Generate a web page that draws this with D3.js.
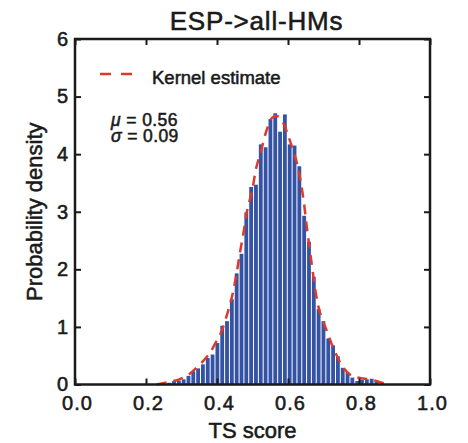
<!DOCTYPE html>
<html>
<head>
<meta charset="utf-8">
<script src="https://cdn.jsdelivr.net/npm/d3@7"></script>
<style>
    body { margin: 0; background: #fff; }
    svg text {
        font-family: "Liberation Sans", Arial, sans-serif;
        fill: #1a1a1a;
        stroke: #1a1a1a;
        stroke-width: 0.55px;
    }
</style>
</head>
<body>
<div id="chart"></div>
<script>
// histogram bins (left edge of the first bin, bin width) and densities
const binStart = 0.2585;
const binWidth = 0.01358;
const density = [
    0.03, 0.06, 0.07, 0.09, 0.15, 0.23, 0.28, 0.35, 0.46, 0.52,
    0.72, 1.02, 1.10, 1.48, 1.93, 2.27, 2.99, 3.43, 3.47, 4.17,
    4.12, 4.61, 4.71, 4.39, 4.69, 4.17, 4.15, 3.79, 2.93, 2.48,
    1.87, 1.31, 1.10, 0.80, 0.68, 0.49, 0.29, 0.20, 0.12, 0.06,
    0.08, 0.09, 0.10, 0.05
];

// kernel estimate
const kdeX = [0.23, 0.26, 0.29, 0.32, 0.335, 0.36, 0.38, 0.40, 0.41, 0.43,
    0.445, 0.455, 0.465, 0.475, 0.485, 0.50, 0.51, 0.525, 0.54, 0.555,
    0.57, 0.585, 0.60, 0.61, 0.625, 0.635, 0.645, 0.652, 0.66, 0.668,
    0.678, 0.69, 0.71, 0.73, 0.757, 0.78, 0.805, 0.83, 0.86, 0.88];
const kdeY = [0.00, 0.04, 0.08, 0.17, 0.25, 0.40, 0.55, 0.77, 0.88, 1.25,
    1.60, 1.93, 2.30, 2.65, 3.02, 3.40, 3.75, 4.08, 4.42, 4.63,
    4.66, 4.56, 4.33, 4.15, 3.85, 3.55, 3.15, 2.78, 2.40, 2.04,
    1.60, 1.25, 0.92, 0.60, 0.28, 0.15, 0.11, 0.09, 0.04, 0.00];

const xTicks = [0, 0.2, 0.4, 0.6, 0.8, 1.0];
const yTicks = [0, 1, 2, 3, 4, 5, 6];
const stats = [["μ", "0.56"], ["σ", "0.09"]];

const margin = { top: 39, right: 38, bottom: 58.5, left: 75 };
const width = 468 - margin.left - margin.right;
const height = 443 - margin.top - margin.bottom;

const svg = d3.select("#chart").append("svg")
    .attr("width", 468)
    .attr("height", 443);

const g = svg.append("g")
    .attr("transform", `translate(${margin.left},${margin.top})`);

const x = d3.scaleLinear().domain([0, 1]).range([0, width]);
const y = d3.scaleLinear().domain([0, 6]).range([height, 0]);

// bars
const bins = density.map((d, i) => ({ x0: binStart + i * binWidth, value: d }));
const barW = x(binWidth) - x(0);

g.selectAll(".bar")
    .data(bins)
    .enter().append("rect")
    .attr("class", "bar")
    .attr("x", d => x(d.x0) + 0.5)
    .attr("width", barW - 1)
    .attr("y", d => y(d.value))
    .attr("height", d => height - y(d.value))
    .attr("fill", "#3453a5");

// kernel estimate
const kde = kdeX.map((v, i) => [v, kdeY[i]]);
const line = d3.line()
    .x(d => x(d[0]))
    .y(d => y(d[1]))
    .curve(d3.curveCatmullRom);

g.append("path")
    .datum(kde)
    .attr("fill", "none")
    .attr("stroke", "#dc3a2c")
    .attr("stroke-width", 2.5)
    .attr("stroke-dasharray", "10,7")
    .attr("d", line);

// axes, ticks pointing inwards on all four sides
const tickStyle = sel => {
    sel.select(".domain").remove();
    sel.selectAll(".tick line").attr("stroke", "#1a1a1a").attr("stroke-width", 2);
    sel.selectAll(".tick text")
        .style("font-size", "20px")
        .style("letter-spacing", "1px")
        .attr("fill", "#1a1a1a");
};

g.append("g")
    .attr("transform", `translate(0,${height})`)
    .call(d3.axisBottom(x).tickValues(xTicks).tickFormat(d3.format(".1f"))
        .tickSize(-6).tickPadding(11))
    .call(tickStyle)
    .selectAll(".tick text").attr("dx", 2);

g.append("g")
    .call(d3.axisTop(x).tickValues(xTicks).tickFormat("").tickSize(-6))
    .call(tickStyle);

g.append("g")
    .call(d3.axisLeft(y).tickValues(yTicks).tickFormat(d3.format("d"))
        .tickSize(-6).tickPadding(6))
    .call(tickStyle);

g.append("g")
    .attr("transform", `translate(${width},0)`)
    .call(d3.axisRight(y).tickValues(yTicks).tickFormat("").tickSize(-6))
    .call(tickStyle);

g.append("rect")
    .attr("width", width)
    .attr("height", height)
    .attr("fill", "none")
    .attr("stroke", "#1a1a1a")
    .attr("stroke-width", 2.5);

// title and axis labels
svg.append("text")
    .attr("x", margin.left + width / 2 + 4)
    .attr("y", 30)
    .attr("text-anchor", "middle")
    .style("font-size", "26px")
    .style("letter-spacing", "0.8px")
    .text("ESP->all-HMs");

svg.append("text")
    .attr("x", margin.left + width / 2)
    .attr("y", 438)
    .attr("text-anchor", "middle")
    .style("font-size", "22px")
    .text("TS score");

svg.append("text")
    .attr("transform", `translate(42,${margin.top + height / 2}) rotate(-90)`)
    .attr("text-anchor", "middle")
    .style("font-size", "22px")
    .text("Probability density");

// legend
g.append("line")
    .attr("x1", 25).attr("x2", 57)
    .attr("y1", 35).attr("y2", 35)
    .attr("stroke", "#dc3a2c")
    .attr("stroke-width", 2.5)
    .attr("stroke-dasharray", "11,10");

g.append("text")
    .attr("x", 77)
    .attr("y", 45)
    .style("font-size", "18.5px")
    .text("Kernel estimate");

// mean / sd annotation
stats.forEach((s, i) => {
    const t = g.append("text")
        .attr("x", 36)
        .attr("y", 86.5 + i * 16)
        .style("font-size", "17.5px")
        .style("letter-spacing", "0.4px");
    t.append("tspan").style("font-style", "italic").text(s[0]);
    t.append("tspan").text(" = " + s[1]);
});
</script>
</body>
</html>
